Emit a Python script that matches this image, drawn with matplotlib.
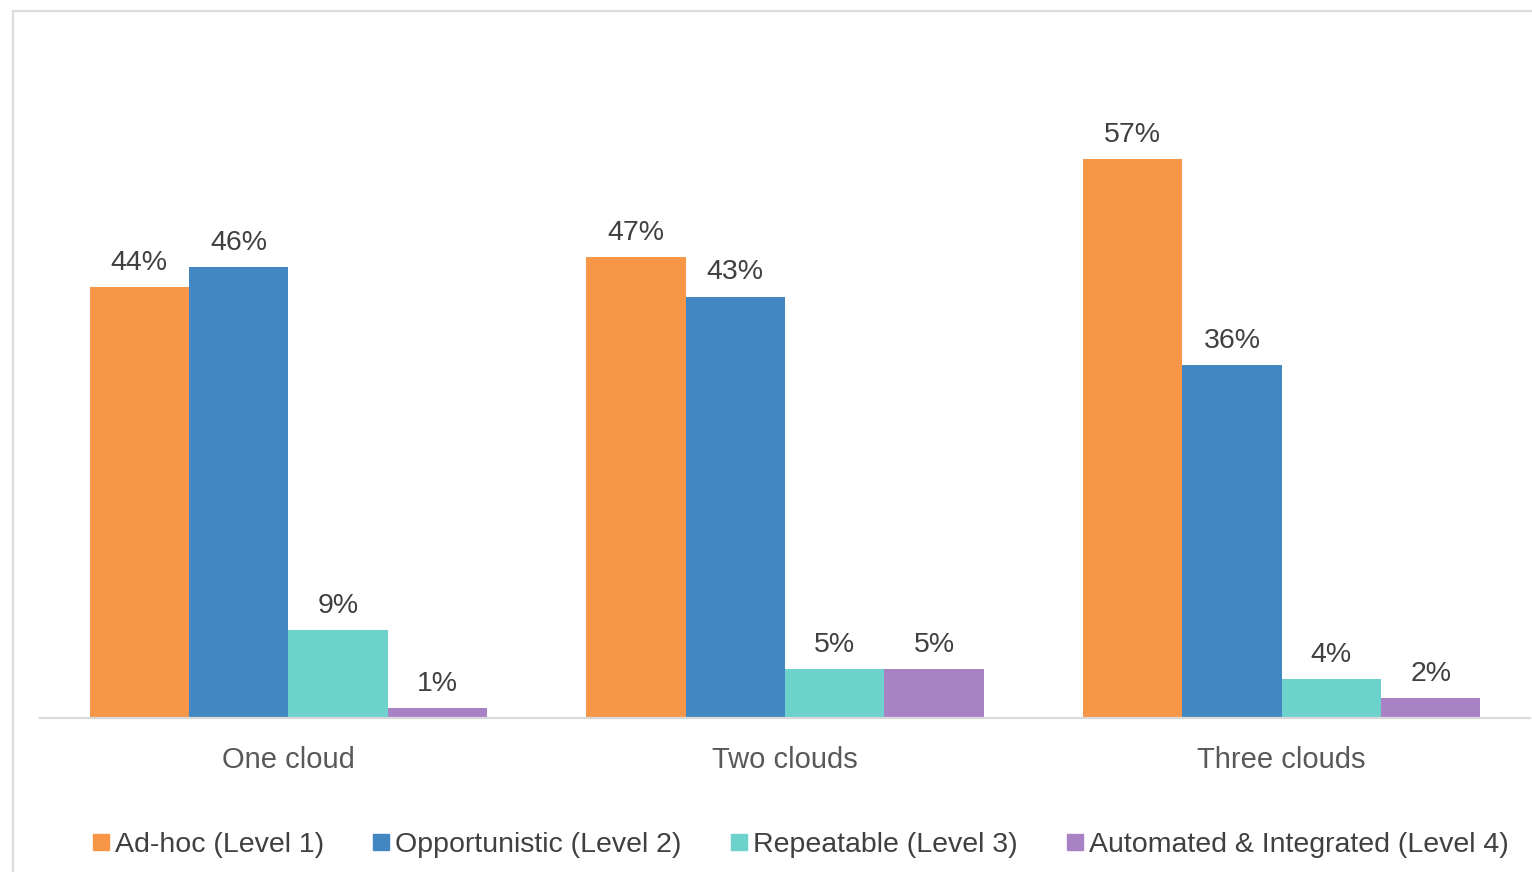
import matplotlib
matplotlib.use("Agg")
import matplotlib.pyplot as plt
from matplotlib.patches import Rectangle
from matplotlib.lines import Line2D
import numpy as np

categories = ["One cloud", "Two clouds", "Three clouds"]
series_names = ["Ad-hoc (Level 1)", "Opportunistic (Level 2)",
                "Repeatable (Level 3)", "Automated & Integrated (Level 4)"]
adhoc = [44, 47, 57]
opportunistic = [46, 43, 36]
repeatable = [9, 5, 4]
automated = [1, 5, 2]
series_values = [adhoc, opportunistic, repeatable, automated]
colors = ["#F79646", "#4286C2", "#6DD1CC", "#A982C6"]

plt.rcParams["font.family"] = ["Liberation Sans", "DejaVu Sans"]

W, H = 1532, 872
fig = plt.figure(figsize=(W / 100, H / 100), dpi=100)

# light frame around the chart area
fig.patches.append(Rectangle((13 / W, -0.05), 1.2, 1 - 11 / H + 0.05,
                             transform=fig.transFigure, fill=False,
                             edgecolor="#DCDCDC", linewidth=1.6))

ax = fig.add_axes([40 / W, 154 / H, 1490 / W, 588 / H])
ax.set_xlim(-0.5, 2.5)
ax.set_ylim(0, 60)

x = np.arange(len(categories))
bw = 0.2
offsets = [-1.5 * bw, -0.5 * bw, 0.5 * bw, 1.5 * bw]
for vals, off, col, name in zip(series_values, offsets, colors, series_names):
    bars = ax.bar(x + off, vals, width=bw, color=col, label=name, linewidth=0)
    for b, v in zip(bars, vals):
        ax.annotate(f"{v}%", (b.get_x() + b.get_width() / 2, v),
                    xytext=(0, 8), textcoords="offset points",
                    ha="center", va="bottom", fontsize=20.5, color="#404040")

for s in ["top", "right", "left"]:
    ax.spines[s].set_visible(False)
ax.spines["bottom"].set_color("#D9D9D9")
ax.spines["bottom"].set_linewidth(1.6)
ax.set_yticks([])
ax.set_xticks(x)
ax.set_xticklabels(categories, fontsize=21, color="#595959")
ax.tick_params(axis="x", length=0, pad=20)

handles = [Line2D([], [], marker="s", linestyle="none", markersize=11,
                  markerfacecolor=c, markeredgecolor=c) for c in colors]
fig.legend(handles, series_names, loc="center", ncol=4,
           bbox_to_anchor=(799 / W, 1 - 845 / H), frameon=False,
           fontsize=20.5, labelcolor="#404040", handletextpad=0.1,
           columnspacing=1.6, handlelength=0.8)

fig.savefig("out.png", dpi=100, facecolor="white")
